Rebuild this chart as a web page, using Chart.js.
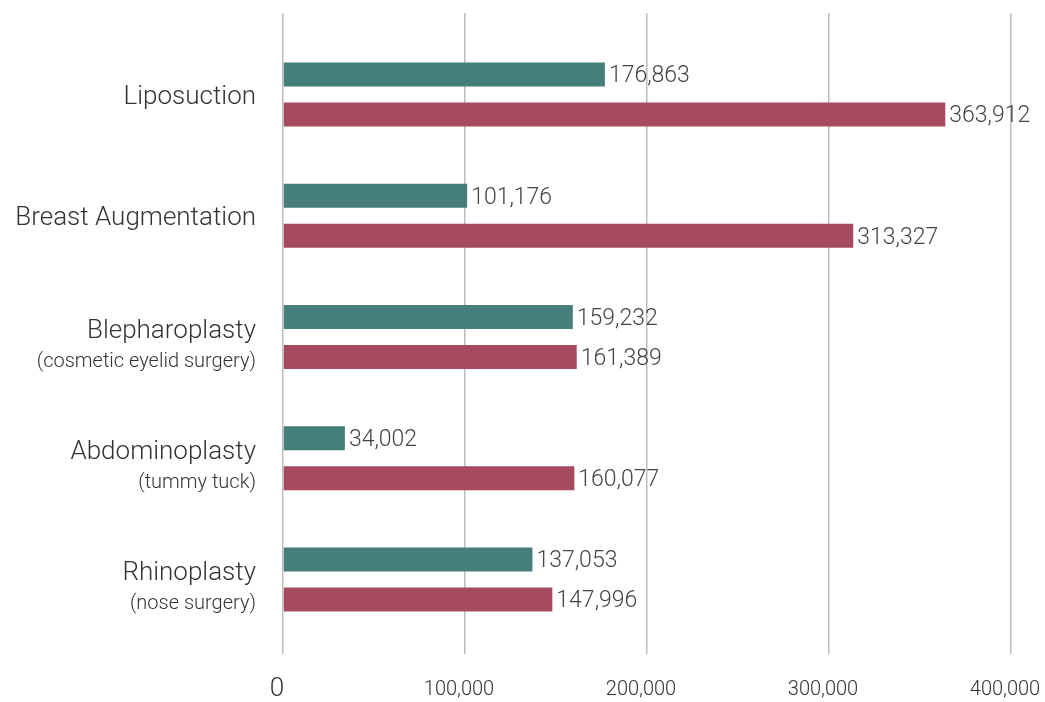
<!DOCTYPE html>
<html>
<head>
<meta charset="utf-8">
<script src="https://cdn.jsdelivr.net/npm/chart.js@4.4.1/dist/chart.umd.min.js"></script>
<style>
  body { margin: 0; background: #fff; }
  #wrap { width: 1045px; height: 702px; position: relative; }
</style>
</head>
<body>
<div id="wrap"><canvas id="surgeryChart"></canvas></div>
<script>
// procedure names + small second line
const procedures = ["Liposuction", "Breast Augmentation", "Blepharoplasty", "Abdominoplasty", "Rhinoplasty"]
const subtitles = ["", "", "(cosmetic eyelid surgery)", "(tummy tuck)", "(nose surgery)"]

// two series (teal first, crimson second)
const tealValues = [176863, 101176, 159232, 34002, 137053]
const crimsonValues = [363912, 313327, 161389, 160077, 147996]

const tickValues = [0, 100000, 200000, 300000, 400000]

const TEAL = "#467e7b"
const CRIMSON = "#a64a5f"
const GRID = "#bdbdbd"
const FONT = "Roboto"

// category labels on the left, drawn by hand (two font sizes)
const categoryLabels = {
    id: "categoryLabels",
    afterDraw(chart){
        const ctx = chart.ctx
        const y = chart.scales.y
        ctx.save()
        ctx.fillStyle = "#333"
        ctx.textAlign = "right"
        ctx.textBaseline = "alphabetic"
        procedures.forEach((name, i) => {
            const py = y.getPixelForValue(i)
            ctx.font = `300 26px ${FONT}`
            ctx.fillText(name, 256, subtitles[i] ? py + 1 : py + 9)
            if(subtitles[i]){
                ctx.font = `300 20px ${FONT}`
                ctx.fillText(subtitles[i], 256, py + 30)
            }
        })
        ctx.restore()
    }
}

// value text at the end of each bar
const valueLabels = {
    id: "valueLabels",
    afterDatasetsDraw(chart){
        const ctx = chart.ctx
        ctx.save()
        ctx.fillStyle = "#444"
        ctx.font = `300 23px ${FONT}`
        ctx.textAlign = "left"
        ctx.textBaseline = "middle"
        chart.data.datasets.forEach((ds, d) => {
            chart.getDatasetMeta(d).data.forEach((bar, i) => {
                ctx.fillText(ds.data[i].toLocaleString("en-US"), bar.x + 4, bar.y + 2)
            })
        })
        ctx.restore()
    }
}

new Chart(document.getElementById("surgeryChart"), {
    type: "bar",
    data: {
        labels: procedures,
        datasets: [
            { data: tealValues, backgroundColor: TEAL, categoryPercentage: 0.66, barPercentage: 0.6 },
            { data: crimsonValues, backgroundColor: CRIMSON, categoryPercentage: 0.66, barPercentage: 0.6 }
        ]
    },
    options: {
        indexAxis: "y",
        responsive: true,
        maintainAspectRatio: false,
        animation: false,
        layout: { padding: { left: 283, right: 34, top: 13, bottom: 0 } },
        plugins: {
            legend: { display: false },
            tooltip: { enabled: false }
        },
        scales: {
            y: { display: false },
            x: {
                position: "bottom",
                min: 0,
                max: 400000,
                afterBuildTicks: (s) => { s.ticks = tickValues.map(v => ({ value: v })) },
                afterFit: (s) => { s.paddingLeft = 0; s.paddingRight = 0; s.height = 62 },
                border: { display: false },
                grid: { color: GRID, lineWidth: 1.5, tickLength: 14 },
                ticks: {
                    padding: 20,
                    labelOffset: -6,
                    color: "#333",
                    font: (c) => c.tick && c.tick.value === 0
                        ? { family: FONT, size: 26, weight: "300", lineHeight: 1.2 }
                        : { family: FONT, size: 20, weight: "300", lineHeight: 1.55 },
                    callback: (v) => v.toLocaleString("en-US")
                }
            },
            // only used to push the grid lines up above the first bars
            xTop: {
                type: "linear",
                position: "top",
                min: 0,
                max: 400000,
                afterBuildTicks: (s) => { s.ticks = tickValues.map(v => ({ value: v })) },
                afterFit: (s) => { s.paddingLeft = 0; s.paddingRight = 0 },
                border: { display: false },
                grid: { color: GRID, lineWidth: 1.5, tickLength: 21, drawOnChartArea: false },
                ticks: { display: false }
            }
        }
    },
    plugins: [categoryLabels, valueLabels]
})
</script>
</body>
</html>
